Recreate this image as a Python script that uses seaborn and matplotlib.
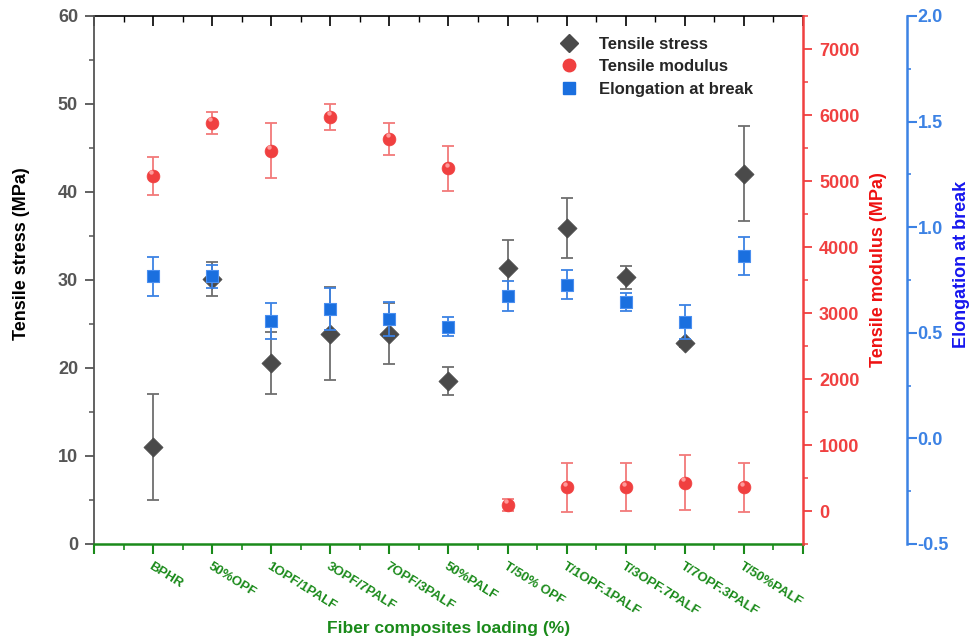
import numpy as np
import pandas as pd
import matplotlib
matplotlib.use("Agg")
import matplotlib.pyplot as plt
from matplotlib.lines import Line2D
from matplotlib.ticker import MultipleLocator, FixedLocator, FormatStrFormatter
import seaborn as sns

categories = ["BPHR", "50%OPF", "1OPF/1PALF", "3OPF/7PALF", "7OPF/3PALF", "50%PALF",
              "T/50% OPF", "T/1OPF.1PALF", "T/3OPF.7PALF", "T/7OPF.3PALF", "T/50%PALF"]
stress = [11.0, 30.1, 20.6, 23.9, 23.9, 18.5, 31.4, 35.9, 30.3, 22.8, 42.1]
stress_err = [6.0, 1.9, 3.5, 5.3, 3.5, 1.6, 3.1, 3.4, 1.3, 0.4, 5.4]
modulus = [5080, 5880, 5460, 5970, 5640, 5190, 90, 360, 360, 430, 360]
modulus_err = [290, 170, 415, 195, 245, 345, 95, 370, 360, 420, 370]
elong = [0.767, 0.767, 0.554, 0.611, 0.567, 0.529, 0.674, 0.728, 0.646, 0.550, 0.865]
elong_err = [0.093, 0.054, 0.085, 0.10, 0.08, 0.045, 0.071, 0.07, 0.041, 0.08, 0.09]

df = pd.DataFrame({"pos": np.arange(1, len(categories) + 1), "cat": categories,
                   "stress": stress, "stress_err": stress_err,
                   "modulus": modulus, "modulus_err": modulus_err,
                   "elong": elong, "elong_err": elong_err})

sns.set_style("white")
plt.rcParams["font.family"] = ["Liberation Sans", "DejaVu Sans"]
plt.rcParams["font.weight"] = "bold"
plt.rcParams["axes.unicode_minus"] = False

c_gray = "#4a4a4a"
c_gray_err = "#6e6e6e"
c_red = "#f04040"
c_red_err = "#f27a7a"
c_blue = "#1a6fdf"
c_blue_axis = "#3c82e4"
c_green = "#1a8a1a"

TICK_FS = 13
LABEL_FS = 13

fig = plt.figure(figsize=(9.7, 6.44), dpi=100)
ax = fig.add_axes([94 / 970, 1 - 544 / 644, (803 - 94) / 970, (544 - 16) / 644])
ax2 = ax.twinx()
ax3 = ax.twinx()

# Tensile stress
ax.errorbar(df["pos"], df["stress"], yerr=df["stress_err"], fmt="none",
            ecolor=c_gray_err, elinewidth=1.3, capsize=4, capthick=1.3, zorder=2)
sns.scatterplot(data=df, x="pos", y="stress", ax=ax, marker="D", s=95,
                color=c_gray, edgecolor=c_gray, linewidth=0.5, legend=False, zorder=3)

# Tensile modulus
ax2.errorbar(df["pos"], df["modulus"], yerr=df["modulus_err"], fmt="none",
             ecolor=c_red_err, elinewidth=1.3, capsize=4, capthick=1.3, zorder=2)
sns.scatterplot(data=df, x="pos", y="modulus", ax=ax2, marker="o", s=85,
                color=c_red, edgecolor=c_red, linewidth=0.5, legend=False, zorder=3)
ax2.scatter(df["pos"] - 0.03, np.array(modulus) + 55, s=10, color="#ff9a9a",
            linewidths=0, zorder=4)

# Elongation at break
ax3.errorbar(df["pos"], df["elong"], yerr=df["elong_err"], fmt="none",
             ecolor=c_blue_axis, elinewidth=1.3, capsize=4, capthick=1.3, zorder=2)
sns.scatterplot(data=df, x="pos", y="elong", ax=ax3, marker="s", s=80,
                color=c_blue, edgecolor="#4a8ff0", linewidth=0.8, legend=False, zorder=3)

# X axis
ax.set_xlim(0, 12)
ax.xaxis.set_major_locator(FixedLocator(list(range(0, 13))))
ax.set_xticklabels([""] + categories + [""], rotation=-32, ha="left", va="top",
                   rotation_mode="anchor", fontsize=9.5, fontweight="bold", color=c_green)
ax.xaxis.set_minor_locator(MultipleLocator(0.5))
ax.tick_params(axis="x", which="major", direction="out", length=7, width=1.5,
               color=c_green, pad=5, bottom=True, top=False)
ax.tick_params(axis="x", which="minor", direction="out", length=4, width=1.2,
               color=c_green, bottom=True, top=False)
ax.set_xlabel("Fiber composites loading (%)", fontsize=12.5, fontweight="bold",
              color=c_green, labelpad=2)

# top ticks via secondary axis
top = ax.secondary_xaxis("top")
top.set_xticks(list(range(0, 13)))
top.set_xticklabels([])
top.xaxis.set_minor_locator(MultipleLocator(0.5))
top.tick_params(axis="x", which="major", direction="in", length=7, width=1.2, color="black", top=True)
top.tick_params(axis="x", which="minor", direction="in", length=4, width=1.0, color="black", top=True)
top.spines["top"].set_color("black")
top.spines["top"].set_linewidth(1.2)

# Left axis
ax.set_ylim(0, 60)
ax.yaxis.set_major_locator(MultipleLocator(10))
ax.yaxis.set_minor_locator(MultipleLocator(5))
ax.tick_params(axis="y", which="major", direction="out", length=6.5, width=1.3,
               color="#555555", labelcolor="#555555", labelsize=TICK_FS, left=True, pad=5)
ax.tick_params(axis="y", which="minor", direction="out", length=3.5, width=1.1,
               color="#555555", left=True)
for lab in ax.get_yticklabels():
    lab.set_fontweight("bold")
ax.set_ylabel("Tensile stress (MPa)", fontsize=LABEL_FS, fontweight="bold", color="black", labelpad=20)
ax.yaxis.label.set_y(0.55)
ax.spines["left"].set_color("#555555")
ax.spines["left"].set_linewidth(1.3)
ax.spines["bottom"].set_color(c_green)
ax.spines["bottom"].set_linewidth(1.8)
ax.spines["top"].set_visible(False)
ax.spines["right"].set_visible(False)

# Red axis
ax2.set_ylim(-500, 7500)
ax2.set_yticks(list(range(0, 8000, 1000)))
ax2.yaxis.set_minor_locator(MultipleLocator(500))
ax2.tick_params(axis="y", which="major", direction="out", length=6.5, width=1.3,
                color=c_red, labelcolor=c_red, labelsize=TICK_FS, right=True, pad=5)
ax2.tick_params(axis="y", which="minor", direction="out", length=3.5, width=1.1,
                color=c_red, right=True)
for lab in ax2.get_yticklabels():
    lab.set_fontweight("bold")
ax2.set_ylabel("Tensile modulus (MPa)", fontsize=LABEL_FS, fontweight="bold", color="#ee1111", labelpad=8)
ax2.yaxis.label.set_y(0.52)
ax2.spines["right"].set_color(c_red)
ax2.spines["right"].set_linewidth(1.8)
for s in ["left", "top", "bottom"]:
    ax2.spines[s].set_visible(False)

# Blue axis
ax3.spines["right"].set_position(("outward", 104 * 72 / 100))
ax3.set_ylim(-0.5, 2.0)
ax3.yaxis.set_major_locator(MultipleLocator(0.5))
ax3.yaxis.set_minor_locator(MultipleLocator(0.25))
ax3.yaxis.set_major_formatter(FormatStrFormatter("%.1f"))
ax3.tick_params(axis="y", which="major", direction="out", length=7, width=1.5,
                color=c_blue_axis, labelcolor=c_blue_axis, labelsize=TICK_FS, right=True, pad=0.5)
ax3.tick_params(axis="y", which="minor", direction="out", length=3, width=1.2,
                color=c_blue_axis, right=True)
for lab in ax3.get_yticklabels():
    lab.set_fontweight("bold")
ax3.set_ylabel("Elongation at break", fontsize=LABEL_FS, fontweight="bold", color="#1515ee", labelpad=3)
ax3.yaxis.label.set_y(0.53)
ax3.spines["right"].set_color(c_blue_axis)
ax3.spines["right"].set_linewidth(1.8)
for s in ["left", "top", "bottom"]:
    ax3.spines[s].set_visible(False)

# Legend
handles = [
    Line2D([], [], linestyle="none", marker="D", markersize=9, color=c_gray),
    Line2D([], [], linestyle="none", marker="o", markersize=9, color=c_red),
    Line2D([], [], linestyle="none", marker="s", markersize=8, color=c_blue),
]
labels = ["Tensile stress", "Tensile modulus", "Elongation at break"]
ax3.legend(handles, labels, loc="upper left", bbox_to_anchor=(546 / 970, 1 - 30 / 644),
           bbox_transform=fig.transFigure, frameon=False,
           prop={"weight": "bold", "size": 12}, handletextpad=0.8,
           labelspacing=0.45, borderaxespad=0)

fig.savefig("out.png", dpi=100)
